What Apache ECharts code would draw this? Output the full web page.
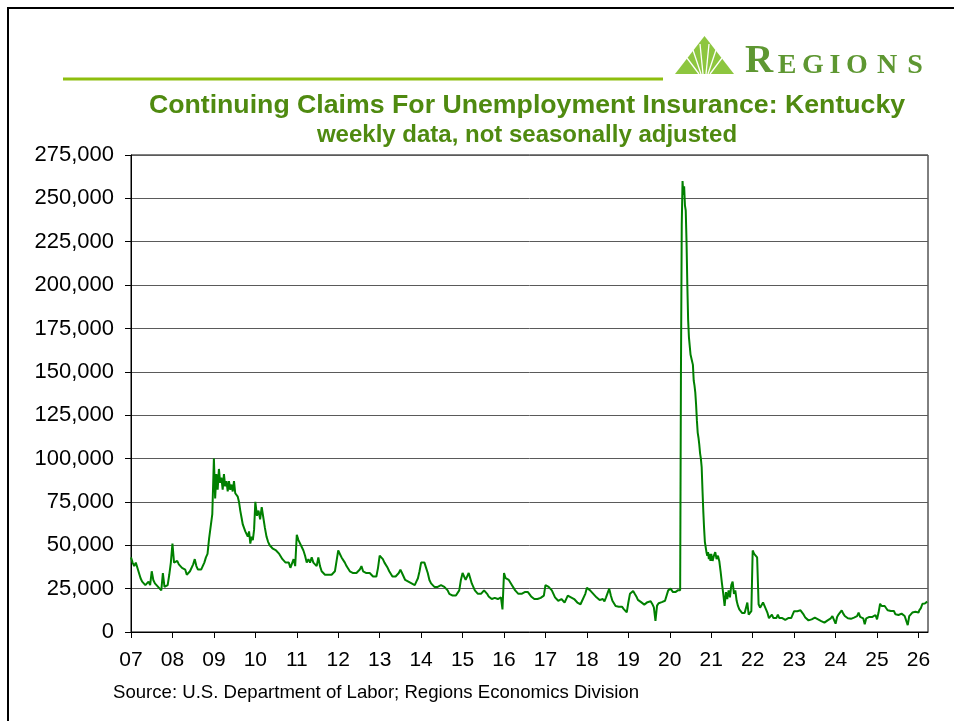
<!DOCTYPE html>
<html>
<head>
<meta charset="utf-8">
<script src="https://cdn.jsdelivr.net/npm/echarts@6/dist/echarts.min.js"></script>
<style>
  html, body { margin: 0; padding: 0; background: #fff; }
  #chart { width: 954px; height: 721px; }
</style>
</head>
<body>
<div id="chart"></div>
<script>
// continuing claims, Kentucky, thousands (~biweekly)
var claims2007 = [43, 40, 38, 40, 37, 34, 31, 29, 28, 27, 28, 29, 27, 35, 30, 28, 27, 26, 25, 24, 34, 26, 25, 27, 33, 40];
var claims2008 = [51, 40, 39, 41, 39, 38, 37, 38, 36, 33, 32, 35, 36, 39, 42, 38, 36, 37, 36, 38, 40, 43, 45, 54, 55, 68];
var claims2009 = [100, 77, 91, 82, 94, 86, 89, 82, 91, 84, 87, 81, 87, 82, 85, 81, 87, 80, 81, 78, 75, 70, 66, 62, 60, 58, 57, 55, 58, 51, 55, 53, 59];
var claims2010 = [75, 67, 70, 65, 72, 66, 60, 55, 52, 50, 51, 48, 49, 47, 46, 45, 44, 42, 41, 40, 39, 40, 37, 36, 42, 38];
var claims2011 = [56, 53, 52, 49, 47, 44, 40, 42, 40, 43, 40, 41, 38, 43, 38, 35, 34, 33, 32, 33, 32, 33, 34, 35, 41];
var claims2012 = [47, 45, 43, 42, 40, 38, 37, 35, 34, 34, 33, 34, 34, 36, 38, 35, 34, 34, 34, 34, 33, 32, 32, 32, 37];
var claims2013 = [44, 43, 42, 40, 39, 37, 35, 34, 32, 31, 32, 33, 34, 36, 34, 32, 30, 31, 29, 28, 28, 28, 27, 29, 31, 35];
var claims2014 = [40, 41, 40, 37, 34, 30, 28, 27, 26, 26, 26, 26, 27, 28, 26, 25, 24, 22, 22, 21, 21, 21, 22, 24, 30];
var claims2015 = [34, 32, 30, 31, 34, 31, 28, 26, 24, 23, 22, 22, 22, 23, 24, 23, 22, 20.5, 19.7, 19, 18.5, 19.7, 20, 19, 19.5, 20, 13];
var claims2016 = [34, 31, 30, 30, 29, 27, 26, 24, 23, 22, 22, 22, 22, 23, 23.5, 23, 22, 20.5, 19.7, 19, 18, 19, 18.5, 19.7, 20, 21];
var claims2017 = [27, 27, 26, 25, 24, 22, 20, 19, 18, 18, 19, 18, 17, 19, 21, 22, 20, 19, 19, 18, 17, 16, 16, 18, 19, 22];
var claims2018 = [25.5, 25, 24, 23, 22, 21.6, 20, 19, 18.5, 17.6, 19, 17.7, 20, 19, 25, 21, 18, 17, 15, 16, 14.6, 14.2, 14.6, 13.3, 14.2, 11.3];
var claims2019 = [17, 22, 23, 23.6, 22, 20.5, 18.5, 17.7, 17.2, 16.6, 15.8, 16.2, 17.2, 17.7, 17.7, 16.2, 14.2, 6.4, 15.2, 16.6, 16.6, 17.2, 16.6, 18, 19, 24];
// 2020 read weekly because of the spike
var claims2020 = [25, 25, 24, 24, 23, 23, 24, 23, 23, 24, 24, 24, 25, 24, 150, 235, 260, 252, 257, 246, 243, 225, 200, 180, 170, 165, 160, 158, 157, 154, 145, 142, 138, 131, 122, 115, 112, 108, 103, 100, 95, 82, 70, 60, 52, 49, 46, 44, 46, 42, 45, 41];
var claims2021 = [45, 41, 44, 46, 42, 44, 41, 35, 28, 22, 15, 23, 19, 24, 20, 27, 29, 22, 24, 18, 15, 13, 12, 11, 12, 11, 12, 17, 10, 11, 12];
var claims2022 = [47, 45, 44, 43, 16, 14, 15, 17, 15, 13, 11, 8, 7, 10, 8, 7, 8, 10, 8, 7, 8, 7, 7, 7, 8, 9, 8, 10];
var claims2023 = [12, 13, 12, 11, 12.5, 12, 10, 8.3, 7.3, 6.7, 6.7, 7.3, 7.9, 8.3, 7.9, 7.3, 6.7, 6.3, 6, 5.4, 5.6, 6.7, 7.3, 7.9, 9.2, 8.7];
var claims2024 = [4.8, 8.7, 10.2, 11.2, 12.5, 10.6, 9.2, 8.7, 7.9, 7.3, 7.6, 8.3, 8.3, 8.7, 9.2, 11.2, 8.7, 8.3, 7.9, 4.4, 7.9, 8.3, 8.7, 9.2, 8.7, 9.2, 9.8];
var claims2025 = [7.3, 11.2, 16.3, 15, 14, 15, 13.7, 12.5, 13.1, 12.1, 11.2, 12.1, 10.2, 10.6, 9.8, 10.2, 10.6, 10.2, 9.2, 8.7, 4, 9.2, 10.2, 11.2, 10.6, 11.7, 11.2];
// 2026 so far, weekly
var claims2026 = [11.2, 12.5, 13.1, 13.8, 14, 16.3, 15.5, 16, 16.4, 16.9, 17.2, 17.5];

var yTicks = [0, 25000, 50000, 75000, 100000, 125000, 150000, 175000, 200000, 225000, 250000, 275000];

var segments = [
    { year: 2007, values: claims2007 }, { year: 2008, values: claims2008 },
    { year: 2009, values: claims2009 }, { year: 2010, values: claims2010 },
    { year: 2011, values: claims2011 }, { year: 2012, values: claims2012 },
    { year: 2013, values: claims2013 }, { year: 2014, values: claims2014 },
    { year: 2015, values: claims2015 }, { year: 2016, values: claims2016 },
    { year: 2017, values: claims2017 }, { year: 2018, values: claims2018 },
    { year: 2019, values: claims2019 }, { year: 2020, values: claims2020 },
    { year: 2021, values: claims2021 }, { year: 2022, values: claims2022 },
    { year: 2023, values: claims2023 }, { year: 2024, values: claims2024 },
    { year: 2025, values: claims2025 }, { year: 2026, values: claims2026, perYear: 52 }
];

var lineData = [];
segments.forEach(function (s) {
    var n = s.perYear || s.values.length;
    s.values.forEach(function (v, i) {
        lineData.push([s.year + i / n, v * 1000]);
    });
});

var green = '#4f8a10';
var logoGreen = '#5e9732';
var font = 'Liberation Sans, Arial, sans-serif';

var chart = echarts.init(document.getElementById('chart'));

// REGIONS wordmark letters
var letters = [
    { t: 'R', x: 759, y: 62, size: 39 },
    { t: 'E', x: 787, y: 66, size: 28 },
    { t: 'G', x: 813, y: 66, size: 28 },
    { t: 'I', x: 835, y: 66, size: 28 },
    { t: 'O', x: 857, y: 66, size: 28 },
    { t: 'N', x: 887, y: 66, size: 28 },
    { t: 'S', x: 915, y: 66, size: 28 }
];

var graphics = [
    // slide frame
    { type: 'polyline', shape: { points: [[8, 721], [8, 8], [954, 8]] }, style: { stroke: '#000', lineWidth: 2, fill: null } },
    // header rule
    { type: 'line', shape: { x1: 63, y1: 79, x2: 663, y2: 79 }, style: { stroke: '#8dbe0e', lineWidth: 3 } },
    // logo triangle
    { type: 'polygon', shape: { points: [[675, 74], [704.5, 36], [734, 74]] }, style: { fill: '#8dc63f' } },
    { type: 'line', shape: { x1: 701, y1: 74, x2: 693, y2: 50 }, style: { stroke: '#fff', lineWidth: 1.3 } },
    { type: 'line', shape: { x1: 703, y1: 74, x2: 700, y2: 44 }, style: { stroke: '#fff', lineWidth: 1.3 } },
    { type: 'line', shape: { x1: 699, y1: 74, x2: 687, y2: 58 }, style: { stroke: '#fff', lineWidth: 1.3 } },
    { type: 'line', shape: { x1: 706, y1: 74, x2: 709, y2: 44 }, style: { stroke: '#fff', lineWidth: 1.3 } },
    { type: 'line', shape: { x1: 708, y1: 74, x2: 716, y2: 50 }, style: { stroke: '#fff', lineWidth: 1.3 } },
    { type: 'line', shape: { x1: 710, y1: 74, x2: 722, y2: 58 }, style: { stroke: '#fff', lineWidth: 1.3 } },
    // titles
    { type: 'text', x: 527, y: 106, style: { text: 'Continuing Claims For Unemployment Insurance: Kentucky', font: 'bold 26.7px ' + font, fill: green, textAlign: 'center', textVerticalAlign: 'middle' } },
    { type: 'text', x: 527, y: 135, style: { text: 'weekly data, not seasonally adjusted', font: 'bold 24px ' + font, fill: green, textAlign: 'center', textVerticalAlign: 'middle' } },
    // source
    { type: 'text', x: 113, y: 693, style: { text: 'Source: U.S. Department of Labor; Regions Economics Division', font: '18.6px ' + font, fill: '#000', textAlign: 'left', textVerticalAlign: 'middle' } }
];
letters.forEach(function (l) {
    graphics.push({
        type: 'text', x: l.x, y: l.y,
        style: { text: l.t, font: 'bold ' + l.size + 'px Liberation Serif, Times New Roman, serif', fill: logoGreen, textAlign: 'center', textVerticalAlign: 'middle' }
    });
});

var option = {
    animation: false,
    backgroundColor: '#fff',
    grid: {
        left: 131, right: 26, top: 155, bottom: 89,
        show: true, borderColor: '#000', borderWidth: 1,
        outerBoundsMode: 'none'
    },
    xAxis: {
        type: 'value',
        min: 2007, max: 2026.23, interval: 1,
        axisLine: { show: true, lineStyle: { color: '#000', width: 1 } },
        axisTick: { show: true, length: 6, lineStyle: { color: '#000' } },
        splitLine: { show: false },
        axisLabel: {
            margin: 18, fontSize: 21, color: '#000', fontFamily: font,
            showMaxLabel: false,
            formatter: function (v) {
                return Number.isInteger(v) ? String(v).slice(2) : '';
            }
        }
    },
    yAxis: {
        type: 'value',
        min: yTicks[0], max: yTicks[yTicks.length - 1], interval: 25000,
        axisLine: { show: true, lineStyle: { color: '#000', width: 1 } },
        axisTick: { show: true, length: 6, lineStyle: { color: '#000' } },
        splitLine: { show: true, lineStyle: { color: '#5a5a5a', width: 1 } },
        axisLabel: {
            margin: 17, fontSize: 22, color: '#000', fontFamily: font,
            formatter: function (v) { return v.toLocaleString('en-US'); }
        }
    },
    graphic: graphics,
    series: [{
        type: 'line',
        data: lineData,
        showSymbol: false,
        lineStyle: { color: '#008000', width: 2 }
    }]
};
chart.setOption(option);
</script>
</body>
</html>
